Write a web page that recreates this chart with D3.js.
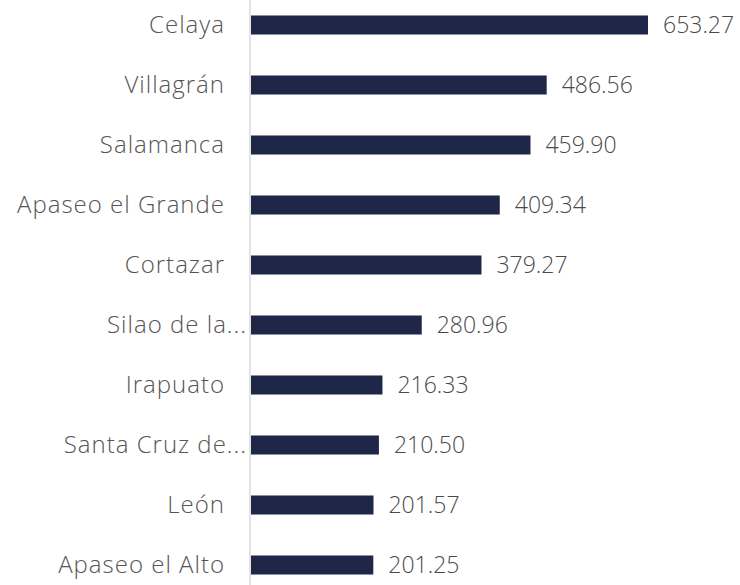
<!DOCTYPE html>
<html>
<head>
<meta charset="utf-8">
<script src="https://cdn.jsdelivr.net/npm/d3@7"></script>
<style>
  html, body { margin: 0; padding: 0; background: #fff; }
  svg { display: block; }
  text { font-family: "Open Sans", "Noto Sans", sans-serif; font-weight: 300; }
</style>
</head>
<body>
<svg id="chart" width="740" height="585"></svg>
<script>
const categories = ["Celaya", "Villagrán", "Salamanca", "Apaseo el Grande", "Cortazar",
  "Silao de la Victoria", "Irapuato", "Santa Cruz de Juventino Rosas", "León", "Apaseo el Alto"];
const displayLabels = ["Celaya", "Villagrán", "Salamanca", "Apaseo el Grande", "Cortazar",
  "Silao de la...", "Irapuato", "Santa Cruz de...", "León", "Apaseo el Alto"];
const values = [653.27, 486.56, 459.90, 409.34, 379.27, 280.96, 216.33, 210.50, 201.57, 201.25];

const svg = d3.select("#chart");
const axisX = 250;

const x = d3.scaleLinear().domain([0, 653.27]).range([axisX + 1, 648]);
const y = d3.scaleBand().domain(categories).range([-5, 595]).paddingInner(0.683).paddingOuter(0.3415);

svg.append("line")
  .attr("x1", axisX).attr("x2", axisX)
  .attr("y1", 0).attr("y2", 585)
  .attr("stroke", "#d9d9d9").attr("stroke-width", 1.5);

svg.selectAll("rect.bar").data(values).join("rect")
  .attr("class", "bar")
  .attr("x", x(0))
  .attr("y", (d, i) => y(categories[i]))
  .attr("width", d => x(d) - x(0))
  .attr("height", y.bandwidth())
  .attr("fill", "#1f2748");

svg.selectAll("text.cat").data(displayLabels).join("text")
  .attr("class", "cat")
  .attr("x", d => d.endsWith("...") ? 247 : 225)
  .attr("y", (d, i) => y(categories[i]) + y.bandwidth() / 2)
  .attr("dy", "0.35em")
  .attr("text-anchor", "end")
  .attr("fill", "#555555")
  .attr("font-size", 24)
  .attr("letter-spacing", 1)
  .text(d => d);

svg.selectAll("text.val").data(values).join("text")
  .attr("class", "val")
  .attr("x", d => x(d) + 15)
  .attr("y", (d, i) => y(categories[i]) + y.bandwidth() / 2)
  .attr("dy", "0.35em")
  .attr("fill", "#4a4a4a")
  .attr("font-size", 23)
  .text(d => d.toFixed(2));
</script>
</body>
</html>
